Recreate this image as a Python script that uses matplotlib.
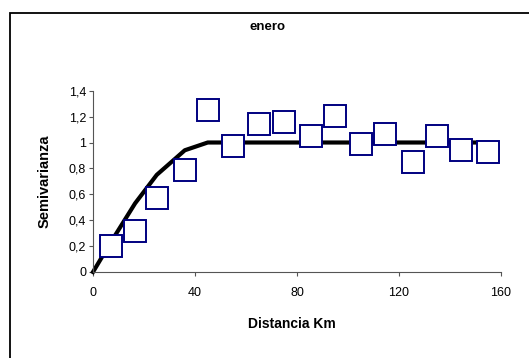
import numpy as np
from matplotlib import pyplot as plt
from matplotlib.lines import Line2D

# experimental semivariogram (enero)
lag_km = [7, 16.5, 25, 36, 45, 55, 65, 75, 85.5, 95, 105, 114.5, 125.5, 135, 144.5, 155]
semivar = [0.20, 0.32, 0.57, 0.785, 1.25, 0.97, 1.14, 1.155, 1.05, 1.205,
           0.985, 1.065, 0.85, 1.05, 0.94, 0.925]

# fitted model
model_km = [0, 7, 16.5, 25, 36, 45, 55, 65, 75, 85, 95, 105, 115, 125, 135, 145, 155]
model_val = [0, 0.23, 0.53, 0.75, 0.94, 1.0, 1.0, 1.0, 1.0, 1.0, 1.0, 1.0, 1.0, 1.0, 1.0, 1.0, 1.0]

xticks = [0, 40, 80, 120, 160]
yticks = [0, 0.2, 0.4, 0.6, 0.8, 1, 1.2, 1.4]
ylabels = ["0", "0,2", "0,4", "0,6", "0,8", "1", "1,2", "1,4"]

plt.rcParams.update({"font.family": "Liberation Sans", "font.size": 9})

W, H = 529, 358
fig = plt.figure(figsize=(W / 100, H / 100), dpi=100)
ax = fig.add_axes([93 / W, 1 - 272 / H, 408 / W, (272 - 90.7) / H])

# outer chart frame (only left/top visible)
fx, fy = 9.5 / W, 1 - 12.5 / H
fig.add_artist(Line2D([fx, fx, 1.0], [0, fy, fy], transform=fig.transFigure,
                      c="black", lw=1.3, solid_joinstyle="miter"))

ax.plot(model_km, model_val, c="black", lw=3, zorder=2, clip_on=False)
ax.plot(lag_km, semivar, ls="none", marker="s", ms=16.5, mfc="white", mec="#000080",
        mew=1.4, zorder=3, clip_on=False)

ax.set_xlim(0, 160)
ax.set_ylim(0, 1.4)
ax.set_xticks(xticks)
ax.set_yticks(yticks)
ax.set_yticklabels(ylabels)
ax.tick_params(direction="out", length=3, width=0.8, color="#555555", labelsize=9, pad=8)
ax.tick_params(axis="y", pad=2)
for s in ["top", "right"]:
    ax.spines[s].set_visible(False)
for s in ["left", "bottom"]:
    ax.spines[s].set_color("#555555")
    ax.spines[s].set_linewidth(0.8)

fig.text(267 / W, 1 - 27 / H, "enero", ha="center", va="center", fontsize=9.5, fontweight="bold")
fig.text(292 / W, 1 - 324 / H, "Distancia Km", ha="center", va="center", fontsize=10,
         fontweight="bold")
fig.text(45 / W, 1 - 181 / H, "Semivarianza", ha="center", va="center", fontsize=10.5,
         fontweight="bold", rotation=90)

fig.savefig("out.png", dpi=100)
